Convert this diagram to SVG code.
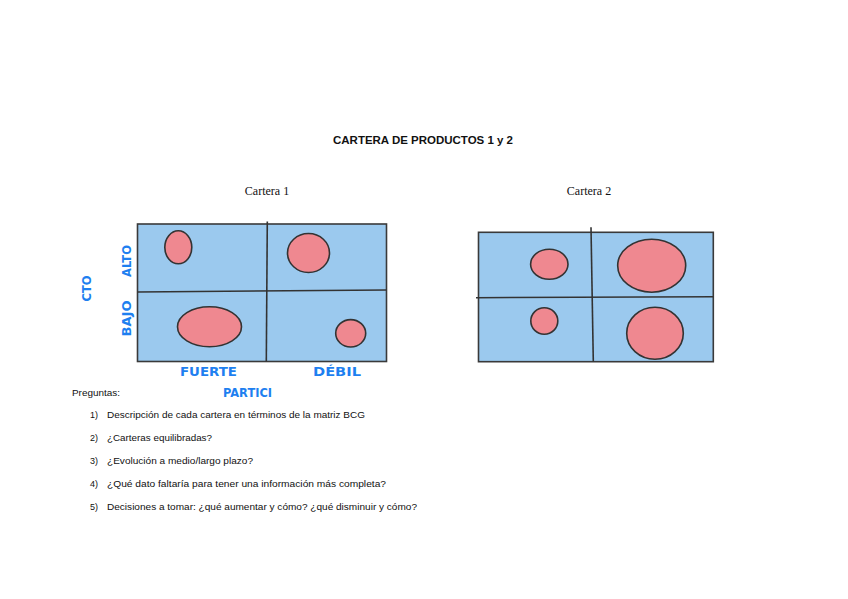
<svg xmlns="http://www.w3.org/2000/svg" width="848" height="599" viewBox="0 0 848 599">
<style>
.cell{fill:#9BC9EE;stroke:#3a3a3a;stroke-width:1.6}
.div{stroke:#333;stroke-width:1.6;fill:none}
.dot{fill:#EF8890;stroke:#333;stroke-width:1.6}
.hw{font-family:"DejaVu Sans",sans-serif;font-weight:bold;font-size:12px;fill:#1E7FF0}
.cap{font-family:"Liberation Serif",serif;font-size:12px;fill:#111}
.q{font-family:"Liberation Sans",sans-serif;font-size:9px;fill:#111}
</style>
<rect width="848" height="599" fill="#fff"/>
<text x="423" y="144" text-anchor="middle" font-family="Liberation Sans, sans-serif" font-weight="bold" font-size="11.5" fill="#111" textLength="180" lengthAdjust="spacingAndGlyphs">CARTERA DE PRODUCTOS 1 y 2</text>
<text class="cap" x="267" y="195" text-anchor="middle">Cartera 1</text>
<text class="cap" x="589" y="195" text-anchor="middle">Cartera 2</text>

<g id="cartera1">
<rect class="cell" x="137.5" y="224" width="249" height="137.5"/>
<g id="c1-connectors">
<path class="div" d="M267.3 221.5 L266.3 361.5"/>
<path class="div" d="M137.5 292 L386.5 290"/>
</g>
<g id="c1-n1"><ellipse class="dot" cx="178.3" cy="247.3" rx="13.5" ry="16.5"/></g>
<g id="c1-n2"><ellipse class="dot" cx="308.5" cy="253" rx="21" ry="19.5"/></g>
<g id="c1-n3"><ellipse class="dot" cx="209.5" cy="326.7" rx="32" ry="20"/></g>
<g id="c1-n4"><ellipse class="dot" cx="350.7" cy="333.3" rx="15" ry="13.7"/></g>
</g>

<g id="cartera2">
<rect class="cell" x="478.5" y="232.3" width="234.8" height="129.4"/>
<g id="c2-connectors">
<path class="div" d="M591 227.3 L593.3 361.7"/>
<path class="div" d="M476 297.7 L713.3 296.7"/>
</g>
<g id="c2-n1"><ellipse class="dot" cx="549.3" cy="264.3" rx="18.7" ry="15"/></g>
<g id="c2-n2"><ellipse class="dot" cx="651.7" cy="265.7" rx="34" ry="26.5"/></g>
<g id="c2-n3"><ellipse class="dot" cx="544.3" cy="321" rx="13.5" ry="13.3"/></g>
<g id="c2-n4"><ellipse class="dot" cx="655" cy="333.3" rx="28.3" ry="26"/></g>
</g>

<g id="handwriting">
<text class="hw" transform="translate(90.5,301.5) rotate(-90)" textLength="26" lengthAdjust="spacingAndGlyphs">CTO</text>
<text class="hw" transform="translate(131,277) rotate(-90)" textLength="32" lengthAdjust="spacingAndGlyphs">ALTO</text>
<text class="hw" transform="translate(131,336.5) rotate(-90)" textLength="36" lengthAdjust="spacingAndGlyphs">BAJO</text>
<text class="hw" x="180" y="375.5" textLength="57" lengthAdjust="spacingAndGlyphs">FUERTE</text>
<text class="hw" x="313" y="375.5" textLength="48" lengthAdjust="spacingAndGlyphs">DÉBIL</text>
<text class="hw" x="223" y="396.5" textLength="49" lengthAdjust="spacingAndGlyphs">PARTICI</text>
</g>

<g id="preguntas">
<text class="q" x="72" y="396" textLength="48" lengthAdjust="spacingAndGlyphs">Preguntas:</text>
<text class="q" x="90" y="417.5">1)</text>
<text class="q" x="107" y="417.5" textLength="258" lengthAdjust="spacingAndGlyphs">Descripción de cada cartera en términos de la matriz BCG</text>
<text class="q" x="90" y="440.5">2)</text>
<text class="q" x="107" y="440.5" textLength="105" lengthAdjust="spacingAndGlyphs">¿Carteras equilibradas?</text>
<text class="q" x="90" y="463.5">3)</text>
<text class="q" x="107" y="463.5" textLength="146" lengthAdjust="spacingAndGlyphs">¿Evolución a medio/largo plazo?</text>
<text class="q" x="90" y="486.5">4)</text>
<text class="q" x="107" y="486.5" textLength="279" lengthAdjust="spacingAndGlyphs">¿Qué dato faltaría para tener una información más completa?</text>
<text class="q" x="90" y="509.5">5)</text>
<text class="q" x="107" y="509.5" textLength="310" lengthAdjust="spacingAndGlyphs">Decisiones a tomar: ¿qué aumentar y cómo? ¿qué disminuir y cómo?</text>
</g>
</svg>
